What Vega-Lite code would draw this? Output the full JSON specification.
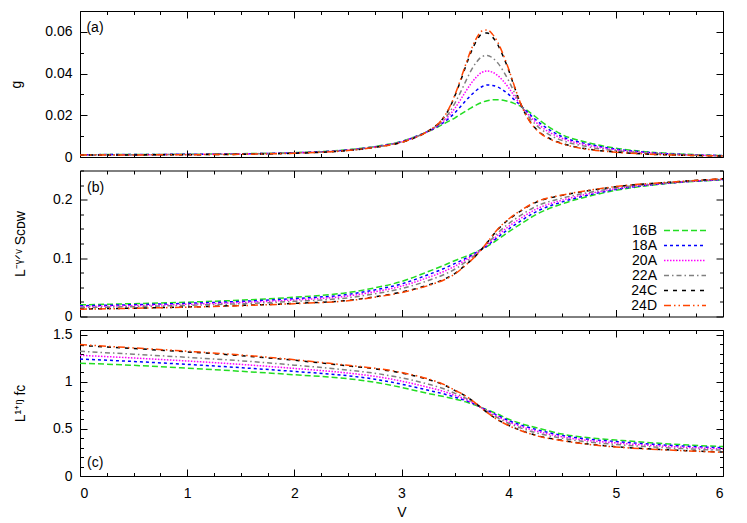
{
"$schema":"https://vega.github.io/schema/vega-lite/v6.json",
"background":"white",
"padding":{"left":8,"top":10,"right":5,"bottom":3},
"config":{"font":"Liberation Sans","view":{"stroke":"#000","strokeWidth":1},
"axis":{"domain":false,"grid":false,"labelFont":"Liberation Sans","labelFontSize":14,"labelColor":"#000","titleFont":"Liberation Sans","titleFontSize":14,"titleFontWeight":"normal","titleColor":"#000","tickColor":"#000","tickWidth":1}},
"spacing":13.5,
"bounds":"flush",
"resolve":{"scale":{"color":"independent","strokeDash":"independent"}},
"datasets":{
"ga":[
{"s":"16B","V":0,"y":0.0011},{"s":"16B","V":0.5,"y":0.0012},{"s":"16B","V":1,"y":0.0013},{"s":"16B","V":1.5,"y":0.0016},{"s":"16B","V":2,"y":0.0021},{"s":"16B","V":2.5,"y":0.0035},{"s":"16B","V":2.75,"y":0.005},{"s":"16B","V":3,"y":0.0075},{"s":"16B","V":3.1,"y":0.0092},{"s":"16B","V":3.2,"y":0.0112},{"s":"16B","V":3.3,"y":0.0134},{"s":"16B","V":3.35,"y":0.0147},{"s":"16B","V":3.4,"y":0.016},{"s":"16B","V":3.45,"y":0.0174},{"s":"16B","V":3.5,"y":0.0188},{"s":"16B","V":3.55,"y":0.0204},{"s":"16B","V":3.6,"y":0.022},{"s":"16B","V":3.65,"y":0.0236},{"s":"16B","V":3.7,"y":0.025},{"s":"16B","V":3.75,"y":0.0262},{"s":"16B","V":3.8,"y":0.027},{"s":"16B","V":3.85,"y":0.0274},{"s":"16B","V":3.9,"y":0.0275},{"s":"16B","V":3.95,"y":0.0272},{"s":"16B","V":4,"y":0.0266},{"s":"16B","V":4.05,"y":0.0257},{"s":"16B","V":4.1,"y":0.0246},{"s":"16B","V":4.15,"y":0.0231},{"s":"16B","V":4.2,"y":0.0213},{"s":"16B","V":4.25,"y":0.0193},{"s":"16B","V":4.3,"y":0.0172},{"s":"16B","V":4.4,"y":0.0136},{"s":"16B","V":4.5,"y":0.0107},{"s":"16B","V":4.75,"y":0.0068},{"s":"16B","V":5,"y":0.0042},{"s":"16B","V":5.25,"y":0.0027},{"s":"16B","V":5.5,"y":0.0017},{"s":"16B","V":5.75,"y":0.0011},{"s":"16B","V":6,"y":0.0007},
{"s":"18A","V":0,"y":0.0011},{"s":"18A","V":0.5,"y":0.0012},{"s":"18A","V":1,"y":0.0013},{"s":"18A","V":1.5,"y":0.0015},{"s":"18A","V":2,"y":0.002},{"s":"18A","V":2.5,"y":0.0034},{"s":"18A","V":2.75,"y":0.0049},{"s":"18A","V":3,"y":0.0074},{"s":"18A","V":3.1,"y":0.0091},{"s":"18A","V":3.2,"y":0.0112},{"s":"18A","V":3.3,"y":0.0136},{"s":"18A","V":3.35,"y":0.0151},{"s":"18A","V":3.4,"y":0.0168},{"s":"18A","V":3.45,"y":0.0189},{"s":"18A","V":3.5,"y":0.0213},{"s":"18A","V":3.55,"y":0.0241},{"s":"18A","V":3.6,"y":0.027},{"s":"18A","V":3.65,"y":0.0297},{"s":"18A","V":3.7,"y":0.032},{"s":"18A","V":3.75,"y":0.0337},{"s":"18A","V":3.8,"y":0.0345},{"s":"18A","V":3.85,"y":0.0343},{"s":"18A","V":3.9,"y":0.0335},{"s":"18A","V":3.95,"y":0.032},{"s":"18A","V":4,"y":0.03},{"s":"18A","V":4.05,"y":0.0276},{"s":"18A","V":4.1,"y":0.0252},{"s":"18A","V":4.15,"y":0.0227},{"s":"18A","V":4.2,"y":0.0203},{"s":"18A","V":4.25,"y":0.018},{"s":"18A","V":4.3,"y":0.0159},{"s":"18A","V":4.4,"y":0.0124},{"s":"18A","V":4.5,"y":0.0097},{"s":"18A","V":4.75,"y":0.0061},{"s":"18A","V":5,"y":0.0038},{"s":"18A","V":5.25,"y":0.0024},{"s":"18A","V":5.5,"y":0.0015},{"s":"18A","V":5.75,"y":0.001},{"s":"18A","V":6,"y":0.0007},
{"s":"20A","V":0,"y":0.001},{"s":"20A","V":0.5,"y":0.0011},{"s":"20A","V":1,"y":0.0012},{"s":"20A","V":1.5,"y":0.0015},{"s":"20A","V":2,"y":0.002},{"s":"20A","V":2.5,"y":0.0033},{"s":"20A","V":2.75,"y":0.0048},{"s":"20A","V":3,"y":0.0073},{"s":"20A","V":3.1,"y":0.009},{"s":"20A","V":3.2,"y":0.0111},{"s":"20A","V":3.3,"y":0.0137},{"s":"20A","V":3.35,"y":0.0154},{"s":"20A","V":3.4,"y":0.0175},{"s":"20A","V":3.45,"y":0.0202},{"s":"20A","V":3.5,"y":0.0235},{"s":"20A","V":3.55,"y":0.0274},{"s":"20A","V":3.6,"y":0.0315},{"s":"20A","V":3.65,"y":0.0353},{"s":"20A","V":3.7,"y":0.0384},{"s":"20A","V":3.75,"y":0.0406},{"s":"20A","V":3.8,"y":0.0412},{"s":"20A","V":3.85,"y":0.0406},{"s":"20A","V":3.9,"y":0.039},{"s":"20A","V":3.95,"y":0.0364},{"s":"20A","V":4,"y":0.0332},{"s":"20A","V":4.05,"y":0.0294},{"s":"20A","V":4.1,"y":0.0257},{"s":"20A","V":4.15,"y":0.0223},{"s":"20A","V":4.2,"y":0.0194},{"s":"20A","V":4.25,"y":0.0169},{"s":"20A","V":4.3,"y":0.0147},{"s":"20A","V":4.4,"y":0.0113},{"s":"20A","V":4.5,"y":0.0089},{"s":"20A","V":4.75,"y":0.0055},{"s":"20A","V":5,"y":0.0034},{"s":"20A","V":5.25,"y":0.0022},{"s":"20A","V":5.5,"y":0.0014},{"s":"20A","V":5.75,"y":0.0009},{"s":"20A","V":6,"y":0.0006},
{"s":"22A","V":0,"y":0.001},{"s":"22A","V":0.5,"y":0.0011},{"s":"22A","V":1,"y":0.0012},{"s":"22A","V":1.5,"y":0.0014},{"s":"22A","V":2,"y":0.0019},{"s":"22A","V":2.5,"y":0.0032},{"s":"22A","V":2.75,"y":0.0047},{"s":"22A","V":3,"y":0.0072},{"s":"22A","V":3.1,"y":0.0089},{"s":"22A","V":3.2,"y":0.0111},{"s":"22A","V":3.3,"y":0.0139},{"s":"22A","V":3.35,"y":0.0157},{"s":"22A","V":3.4,"y":0.0182},{"s":"22A","V":3.45,"y":0.0216},{"s":"22A","V":3.5,"y":0.026},{"s":"22A","V":3.55,"y":0.031},{"s":"22A","V":3.6,"y":0.0364},{"s":"22A","V":3.65,"y":0.0415},{"s":"22A","V":3.7,"y":0.0455},{"s":"22A","V":3.75,"y":0.0481},{"s":"22A","V":3.8,"y":0.0487},{"s":"22A","V":3.85,"y":0.0475},{"s":"22A","V":3.9,"y":0.045},{"s":"22A","V":3.95,"y":0.0412},{"s":"22A","V":4,"y":0.0366},{"s":"22A","V":4.05,"y":0.0313},{"s":"22A","V":4.1,"y":0.0263},{"s":"22A","V":4.15,"y":0.0219},{"s":"22A","V":4.2,"y":0.0184},{"s":"22A","V":4.25,"y":0.0157},{"s":"22A","V":4.3,"y":0.0134},{"s":"22A","V":4.4,"y":0.0101},{"s":"22A","V":4.5,"y":0.0079},{"s":"22A","V":4.75,"y":0.0048},{"s":"22A","V":5,"y":0.003},{"s":"22A","V":5.25,"y":0.0019},{"s":"22A","V":5.5,"y":0.0013},{"s":"22A","V":5.75,"y":0.0008},{"s":"22A","V":6,"y":0.0006},
{"s":"24C","V":0,"y":0.0009},{"s":"24C","V":0.5,"y":0.001},{"s":"24C","V":1,"y":0.0011},{"s":"24C","V":1.5,"y":0.0013},{"s":"24C","V":2,"y":0.0018},{"s":"24C","V":2.5,"y":0.0031},{"s":"24C","V":2.75,"y":0.0046},{"s":"24C","V":3,"y":0.007},{"s":"24C","V":3.1,"y":0.0087},{"s":"24C","V":3.2,"y":0.011},{"s":"24C","V":3.3,"y":0.0142},{"s":"24C","V":3.35,"y":0.0162},{"s":"24C","V":3.4,"y":0.0194},{"s":"24C","V":3.45,"y":0.0237},{"s":"24C","V":3.5,"y":0.0296},{"s":"24C","V":3.55,"y":0.0363},{"s":"24C","V":3.6,"y":0.0436},{"s":"24C","V":3.65,"y":0.0504},{"s":"24C","V":3.7,"y":0.0557},{"s":"24C","V":3.75,"y":0.059},{"s":"24C","V":3.8,"y":0.0595},{"s":"24C","V":3.85,"y":0.0575},{"s":"24C","V":3.9,"y":0.0537},{"s":"24C","V":3.95,"y":0.0481},{"s":"24C","V":4,"y":0.0416},{"s":"24C","V":4.05,"y":0.0341},{"s":"24C","V":4.1,"y":0.0271},{"s":"24C","V":4.15,"y":0.0213},{"s":"24C","V":4.2,"y":0.017},{"s":"24C","V":4.25,"y":0.0138},{"s":"24C","V":4.3,"y":0.0114},{"s":"24C","V":4.4,"y":0.0084},{"s":"24C","V":4.5,"y":0.0065},{"s":"24C","V":4.75,"y":0.0037},{"s":"24C","V":5,"y":0.0024},{"s":"24C","V":5.25,"y":0.0015},{"s":"24C","V":5.5,"y":0.001},{"s":"24C","V":5.75,"y":0.0007},{"s":"24C","V":6,"y":0.0005},
{"s":"24D","V":0,"y":0.0009},{"s":"24D","V":0.5,"y":0.001},{"s":"24D","V":1,"y":0.0011},{"s":"24D","V":1.5,"y":0.0013},{"s":"24D","V":2,"y":0.0018},{"s":"24D","V":2.5,"y":0.0031},{"s":"24D","V":2.75,"y":0.0046},{"s":"24D","V":3,"y":0.007},{"s":"24D","V":3.1,"y":0.0087},{"s":"24D","V":3.2,"y":0.011},{"s":"24D","V":3.3,"y":0.0142},{"s":"24D","V":3.35,"y":0.0163},{"s":"24D","V":3.4,"y":0.0195},{"s":"24D","V":3.45,"y":0.024},{"s":"24D","V":3.5,"y":0.03},{"s":"24D","V":3.55,"y":0.037},{"s":"24D","V":3.6,"y":0.0445},{"s":"24D","V":3.65,"y":0.0515},{"s":"24D","V":3.7,"y":0.057},{"s":"24D","V":3.75,"y":0.0604},{"s":"24D","V":3.8,"y":0.0609},{"s":"24D","V":3.85,"y":0.0588},{"s":"24D","V":3.9,"y":0.0548},{"s":"24D","V":3.95,"y":0.049},{"s":"24D","V":4,"y":0.0422},{"s":"24D","V":4.05,"y":0.0345},{"s":"24D","V":4.1,"y":0.0272},{"s":"24D","V":4.15,"y":0.0212},{"s":"24D","V":4.2,"y":0.0168},{"s":"24D","V":4.25,"y":0.0136},{"s":"24D","V":4.3,"y":0.0112},{"s":"24D","V":4.4,"y":0.0082},{"s":"24D","V":4.5,"y":0.0063},{"s":"24D","V":4.75,"y":0.0036},{"s":"24D","V":5,"y":0.0023},{"s":"24D","V":5.25,"y":0.0015},{"s":"24D","V":5.5,"y":0.001},{"s":"24D","V":5.75,"y":0.0007},{"s":"24D","V":6,"y":0.0005}
],
"sb":[
{"s":"16B","V":0,"y":0.02},{"s":"16B","V":0.5,"y":0.022},{"s":"16B","V":1,"y":0.0245},{"s":"16B","V":1.5,"y":0.028},{"s":"16B","V":2,"y":0.033},{"s":"16B","V":2.5,"y":0.041},{"s":"16B","V":2.75,"y":0.049},{"s":"16B","V":3,"y":0.06},{"s":"16B","V":3.25,"y":0.077},{"s":"16B","V":3.4,"y":0.088},{"s":"16B","V":3.5,"y":0.096},{"s":"16B","V":3.6,"y":0.103},{"s":"16B","V":3.7,"y":0.111},{"s":"16B","V":3.8,"y":0.12},{"s":"16B","V":3.9,"y":0.132},{"s":"16B","V":4,"y":0.145},{"s":"16B","V":4.1,"y":0.157},{"s":"16B","V":4.25,"y":0.174},{"s":"16B","V":4.5,"y":0.193},{"s":"16B","V":4.75,"y":0.206},{"s":"16B","V":5,"y":0.216},{"s":"16B","V":5.5,"y":0.228},{"s":"16B","V":6,"y":0.234},
{"s":"18A","V":0,"y":0.0184},{"s":"18A","V":0.5,"y":0.0202},{"s":"18A","V":1,"y":0.0226},{"s":"18A","V":1.5,"y":0.0259},{"s":"18A","V":2,"y":0.0306},{"s":"18A","V":2.5,"y":0.0379},{"s":"18A","V":2.75,"y":0.0455},{"s":"18A","V":3,"y":0.0558},{"s":"18A","V":3.25,"y":0.0717},{"s":"18A","V":3.4,"y":0.0825},{"s":"18A","V":3.5,"y":0.0909},{"s":"18A","V":3.6,"y":0.0997},{"s":"18A","V":3.7,"y":0.1097},{"s":"18A","V":3.8,"y":0.1215},{"s":"18A","V":3.9,"y":0.136},{"s":"18A","V":4,"y":0.1498},{"s":"18A","V":4.1,"y":0.1621},{"s":"18A","V":4.25,"y":0.1788},{"s":"18A","V":4.5,"y":0.1963},{"s":"18A","V":4.75,"y":0.2082},{"s":"18A","V":5,"y":0.2175},{"s":"18A","V":5.5,"y":0.2284},{"s":"18A","V":6,"y":0.2344},
{"s":"20A","V":0,"y":0.0169},{"s":"20A","V":0.5,"y":0.0186},{"s":"20A","V":1,"y":0.0209},{"s":"20A","V":1.5,"y":0.024},{"s":"20A","V":2,"y":0.0284},{"s":"20A","V":2.5,"y":0.0351},{"s":"20A","V":2.75,"y":0.0423},{"s":"20A","V":3,"y":0.052},{"s":"20A","V":3.25,"y":0.0669},{"s":"20A","V":3.4,"y":0.0775},{"s":"20A","V":3.5,"y":0.0863},{"s":"20A","V":3.6,"y":0.0967},{"s":"20A","V":3.7,"y":0.1085},{"s":"20A","V":3.8,"y":0.1229},{"s":"20A","V":3.9,"y":0.1396},{"s":"20A","V":4,"y":0.1542},{"s":"20A","V":4.1,"y":0.1667},{"s":"20A","V":4.25,"y":0.1832},{"s":"20A","V":4.5,"y":0.1993},{"s":"20A","V":4.75,"y":0.2102},{"s":"20A","V":5,"y":0.2188},{"s":"20A","V":5.5,"y":0.2288},{"s":"20A","V":6,"y":0.2348},
{"s":"22A","V":0,"y":0.0152},{"s":"22A","V":0.5,"y":0.0169},{"s":"22A","V":1,"y":0.0191},{"s":"22A","V":1.5,"y":0.0219},{"s":"22A","V":2,"y":0.026},{"s":"22A","V":2.5,"y":0.032},{"s":"22A","V":2.75,"y":0.0388},{"s":"22A","V":3,"y":0.0478},{"s":"22A","V":3.25,"y":0.0616},{"s":"22A","V":3.4,"y":0.072},{"s":"22A","V":3.5,"y":0.0813},{"s":"22A","V":3.6,"y":0.0934},{"s":"22A","V":3.7,"y":0.1072},{"s":"22A","V":3.8,"y":0.1245},{"s":"22A","V":3.9,"y":0.1435},{"s":"22A","V":4,"y":0.1591},{"s":"22A","V":4.1,"y":0.1717},{"s":"22A","V":4.25,"y":0.1881},{"s":"22A","V":4.5,"y":0.2026},{"s":"22A","V":4.75,"y":0.2124},{"s":"22A","V":5,"y":0.2202},{"s":"22A","V":5.5,"y":0.2293},{"s":"22A","V":6,"y":0.2353},
{"s":"24C","V":0,"y":0.0128},{"s":"24C","V":0.5,"y":0.0143},{"s":"24C","V":1,"y":0.0163},{"s":"24C","V":1.5,"y":0.0189},{"s":"24C","V":2,"y":0.0224},{"s":"24C","V":2.5,"y":0.0276},{"s":"24C","V":2.75,"y":0.0336},{"s":"24C","V":3,"y":0.0418},{"s":"24C","V":3.25,"y":0.054},{"s":"24C","V":3.4,"y":0.064},{"s":"24C","V":3.5,"y":0.0739},{"s":"24C","V":3.6,"y":0.0886},{"s":"24C","V":3.7,"y":0.1052},{"s":"24C","V":3.8,"y":0.1267},{"s":"24C","V":3.9,"y":0.1493},{"s":"24C","V":4,"y":0.1661},{"s":"24C","V":4.1,"y":0.1791},{"s":"24C","V":4.25,"y":0.1951},{"s":"24C","V":4.5,"y":0.2074},{"s":"24C","V":4.75,"y":0.2156},{"s":"24C","V":5,"y":0.2223},{"s":"24C","V":5.5,"y":0.2299},{"s":"24C","V":6,"y":0.2359},
{"s":"24D","V":0,"y":0.0125},{"s":"24D","V":0.5,"y":0.014},{"s":"24D","V":1,"y":0.016},{"s":"24D","V":1.5,"y":0.0185},{"s":"24D","V":2,"y":0.022},{"s":"24D","V":2.5,"y":0.027},{"s":"24D","V":2.75,"y":0.033},{"s":"24D","V":3,"y":0.041},{"s":"24D","V":3.25,"y":0.053},{"s":"24D","V":3.4,"y":0.063},{"s":"24D","V":3.5,"y":0.073},{"s":"24D","V":3.6,"y":0.088},{"s":"24D","V":3.7,"y":0.105},{"s":"24D","V":3.8,"y":0.127},{"s":"24D","V":3.9,"y":0.15},{"s":"24D","V":4,"y":0.167},{"s":"24D","V":4.1,"y":0.18},{"s":"24D","V":4.25,"y":0.196},{"s":"24D","V":4.5,"y":0.208},{"s":"24D","V":4.75,"y":0.216},{"s":"24D","V":5,"y":0.2226},{"s":"24D","V":5.5,"y":0.23},{"s":"24D","V":6,"y":0.236}
],
"fc":[
{"s":"16B","V":0,"y":1.198},{"s":"16B","V":0.5,"y":1.175},{"s":"16B","V":1,"y":1.145},{"s":"16B","V":1.5,"y":1.112},{"s":"16B","V":2,"y":1.075},{"s":"16B","V":2.5,"y":1.033},{"s":"16B","V":2.75,"y":0.995},{"s":"16B","V":3,"y":0.94},{"s":"16B","V":3.25,"y":0.876},{"s":"16B","V":3.4,"y":0.842},{"s":"16B","V":3.5,"y":0.817},{"s":"16B","V":3.6,"y":0.787},{"s":"16B","V":3.7,"y":0.748},{"s":"16B","V":3.8,"y":0.703},{"s":"16B","V":3.9,"y":0.655},{"s":"16B","V":4,"y":0.603},{"s":"16B","V":4.1,"y":0.562},{"s":"16B","V":4.25,"y":0.515},{"s":"16B","V":4.5,"y":0.445},{"s":"16B","V":4.75,"y":0.405},{"s":"16B","V":5,"y":0.382},{"s":"16B","V":5.5,"y":0.34},{"s":"16B","V":6,"y":0.312},
{"s":"18A","V":0,"y":1.241},{"s":"18A","V":0.5,"y":1.216},{"s":"18A","V":1,"y":1.185},{"s":"18A","V":1.5,"y":1.15},{"s":"18A","V":2,"y":1.11},{"s":"18A","V":2.5,"y":1.064},{"s":"18A","V":2.75,"y":1.028},{"s":"18A","V":3,"y":0.975},{"s":"18A","V":3.25,"y":0.91},{"s":"18A","V":3.4,"y":0.87},{"s":"18A","V":3.5,"y":0.837},{"s":"18A","V":3.6,"y":0.801},{"s":"18A","V":3.7,"y":0.752},{"s":"18A","V":3.8,"y":0.696},{"s":"18A","V":3.9,"y":0.642},{"s":"18A","V":4,"y":0.588},{"s":"18A","V":4.1,"y":0.546},{"s":"18A","V":4.25,"y":0.496},{"s":"18A","V":4.5,"y":0.43},{"s":"18A","V":4.75,"y":0.39},{"s":"18A","V":5,"y":0.366},{"s":"18A","V":5.5,"y":0.326},{"s":"18A","V":6,"y":0.299},
{"s":"20A","V":0,"y":1.281},{"s":"20A","V":0.5,"y":1.253},{"s":"20A","V":1,"y":1.221},{"s":"20A","V":1.5,"y":1.185},{"s":"20A","V":2,"y":1.142},{"s":"20A","V":2.5,"y":1.093},{"s":"20A","V":2.75,"y":1.058},{"s":"20A","V":3,"y":1.007},{"s":"20A","V":3.25,"y":0.941},{"s":"20A","V":3.4,"y":0.896},{"s":"20A","V":3.5,"y":0.856},{"s":"20A","V":3.6,"y":0.813},{"s":"20A","V":3.7,"y":0.755},{"s":"20A","V":3.8,"y":0.69},{"s":"20A","V":3.9,"y":0.63},{"s":"20A","V":4,"y":0.574},{"s":"20A","V":4.1,"y":0.531},{"s":"20A","V":4.25,"y":0.479},{"s":"20A","V":4.5,"y":0.416},{"s":"20A","V":4.75,"y":0.376},{"s":"20A","V":5,"y":0.351},{"s":"20A","V":5.5,"y":0.313},{"s":"20A","V":6,"y":0.287},
{"s":"22A","V":0,"y":1.324},{"s":"22A","V":0.5,"y":1.293},{"s":"22A","V":1,"y":1.26},{"s":"22A","V":1.5,"y":1.223},{"s":"22A","V":2,"y":1.177},{"s":"22A","V":2.5,"y":1.124},{"s":"22A","V":2.75,"y":1.091},{"s":"22A","V":3,"y":1.042},{"s":"22A","V":3.25,"y":0.975},{"s":"22A","V":3.4,"y":0.924},{"s":"22A","V":3.5,"y":0.877},{"s":"22A","V":3.6,"y":0.827},{"s":"22A","V":3.7,"y":0.759},{"s":"22A","V":3.8,"y":0.683},{"s":"22A","V":3.9,"y":0.617},{"s":"22A","V":4,"y":0.559},{"s":"22A","V":4.1,"y":0.515},{"s":"22A","V":4.25,"y":0.461},{"s":"22A","V":4.5,"y":0.4},{"s":"22A","V":4.75,"y":0.36},{"s":"22A","V":5,"y":0.335},{"s":"22A","V":5.5,"y":0.298},{"s":"22A","V":6,"y":0.274},
{"s":"24C","V":0,"y":1.387},{"s":"24C","V":0.5,"y":1.353},{"s":"24C","V":1,"y":1.318},{"s":"24C","V":1.5,"y":1.278},{"s":"24C","V":2,"y":1.229},{"s":"24C","V":2.5,"y":1.169},{"s":"24C","V":2.75,"y":1.139},{"s":"24C","V":3,"y":1.093},{"s":"24C","V":3.25,"y":1.024},{"s":"24C","V":3.4,"y":0.965},{"s":"24C","V":3.5,"y":0.906},{"s":"24C","V":3.6,"y":0.847},{"s":"24C","V":3.7,"y":0.764},{"s":"24C","V":3.8,"y":0.673},{"s":"24C","V":3.9,"y":0.597},{"s":"24C","V":4,"y":0.538},{"s":"24C","V":4.1,"y":0.491},{"s":"24C","V":4.25,"y":0.434},{"s":"24C","V":4.5,"y":0.378},{"s":"24C","V":4.75,"y":0.338},{"s":"24C","V":5,"y":0.311},{"s":"24C","V":5.5,"y":0.277},{"s":"24C","V":6,"y":0.254},
{"s":"24D","V":0,"y":1.395},{"s":"24D","V":0.5,"y":1.36},{"s":"24D","V":1,"y":1.325},{"s":"24D","V":1.5,"y":1.285},{"s":"24D","V":2,"y":1.235},{"s":"24D","V":2.5,"y":1.175},{"s":"24D","V":2.75,"y":1.145},{"s":"24D","V":3,"y":1.099},{"s":"24D","V":3.25,"y":1.03},{"s":"24D","V":3.4,"y":0.97},{"s":"24D","V":3.5,"y":0.91},{"s":"24D","V":3.6,"y":0.85},{"s":"24D","V":3.7,"y":0.765},{"s":"24D","V":3.8,"y":0.672},{"s":"24D","V":3.9,"y":0.595},{"s":"24D","V":4,"y":0.535},{"s":"24D","V":4.1,"y":0.488},{"s":"24D","V":4.25,"y":0.43},{"s":"24D","V":4.5,"y":0.375},{"s":"24D","V":4.75,"y":0.335},{"s":"24D","V":5,"y":0.308},{"s":"24D","V":5.5,"y":0.275},{"s":"24D","V":6,"y":0.252}
]
},
"vconcat":[
{"width":643,"height":146,"data":{"name":"ga"},
"resolve":{"axis":{"x":"independent","y":"independent"}},
"layer":[
{"mark":{"type":"line","strokeWidth":1.5,"interpolate":"monotone"},
"encoding":{
"x":{"field":"V","type":"quantitative","scale":{"domain":[0,6],"nice":false,"zero":false},
"axis":{"orient":"bottom","title":null,"labels":false,"values":[0,0.25,0.5,0.75,1,1.25,1.5,1.75,2,2.25,2.5,2.75,3,3.25,3.5,3.75,4,4.25,4.5,4.75,5,5.25,5.5,5.75,6],"tickSize":{"condition":{"test":"datum.value % 1 != 0","value":-3.5},"value":-7}}},
"y":{"field":"y","type":"quantitative","scale":{"domain":[0,0.07],"nice":false},
"axis":{"orient":"left","title":"g","titleAngle":270,"titleX":-64,"titleY":73,"titleAlign":"center","titleBaseline":"middle","values":[0,0.01,0.02,0.03,0.04,0.05,0.06,0.07],"labelExpr":"round(datum.value*100) % 2 == 0 && datum.value < 0.065 ? format(datum.value, '~g') : ''","labelPadding":15,"tickSize":{"condition":{"test":"round(datum.value*100) % 2 != 0","value":-3.5},"value":-7}}},
"color":{"field":"s","type":"nominal","scale":{"domain":["16B","18A","20A","22A","24C","24D"],"range":["#22dd22","#0000ff","#ff00ff","#808080","#000000","#ff4500"]},"legend":null},
"strokeDash":{"field":"s","type":"nominal","scale":{"domain":["16B","18A","20A","22A","24C","24D"],"range":[[6,3],[3,3],[1.5,1.5],[5,3,1.5,3],[4,5],[7,3,1.5,3,1.5,3]]},"legend":null}
}},
{"mark":{"type":"line","opacity":0},
"encoding":{
"x":{"field":"V","type":"quantitative","axis":{"orient":"top","title":null,"labels":false,"values":[0,0.25,0.5,0.75,1,1.25,1.5,1.75,2,2.25,2.5,2.75,3,3.25,3.5,3.75,4,4.25,4.5,4.75,5,5.25,5.5,5.75,6],"tickSize":{"condition":{"test":"datum.value % 1 != 0","value":-3.5},"value":-7}}},
"y":{"field":"y","type":"quantitative","axis":{"orient":"right","title":null,"labels":false,"values":[0,0.01,0.02,0.03,0.04,0.05,0.06,0.07],"tickSize":{"condition":{"test":"round(datum.value*100) % 2 != 0","value":-3.5},"value":-7}}},
"detail":{"field":"s"}}},
{"data":{"values":[{}]},"mark":{"type":"text","align":"left","baseline":"middle","fontSize":14,"font":"Liberation Sans","color":"#000"},
"encoding":{"x":{"datum":0.06,"axis":null},"y":{"datum":0.062,"axis":null},"text":{"value":"(a)"}}}
]},
{"width":643,"height":146,"data":{"name":"sb"},
"resolve":{"axis":{"x":"independent","y":"independent"}},
"layer":[
{"mark":{"type":"line","strokeWidth":1.5,"interpolate":"monotone"},
"encoding":{
"x":{"field":"V","type":"quantitative","scale":{"domain":[0,6],"nice":false,"zero":false},
"axis":{"orient":"bottom","title":null,"labels":false,"values":[0,0.25,0.5,0.75,1,1.25,1.5,1.75,2,2.25,2.5,2.75,3,3.25,3.5,3.75,4,4.25,4.5,4.75,5,5.25,5.5,5.75,6],"tickSize":{"condition":{"test":"datum.value % 1 != 0","value":-3.5},"value":-7}}},
"y":{"field":"y","type":"quantitative","scale":{"domain":[0,0.25],"nice":false},
"axis":{"orient":"left","title":"L⁻ᵞᐟᵛ Sᴄᴅᴡ","titleAngle":270,"titleX":-60,"titleY":73,"titleAlign":"center","titleBaseline":"middle","values":[0,0.025,0.05,0.075,0.1,0.125,0.15,0.175,0.2,0.225,0.25],"labelExpr":"round(datum.value*40) % 4 == 0 ? format(datum.value, '~g') : ''","labelPadding":15,"tickSize":{"condition":{"test":"round(datum.value*40) % 4 != 0","value":-3.5},"value":-7}}},
"color":{"field":"s","type":"nominal","scale":{"domain":["16B","18A","20A","22A","24C","24D"],"range":["#22dd22","#0000ff","#ff00ff","#808080","#000000","#ff4500"]},
"legend":{"title":null,"orient":"none","legendX":597,"legendY":52,"symbolType":"M-3,0H3","symbolSize":196,"symbolStrokeWidth":1.5,"symbolFillColor":"transparent","labelAlign":"right","labelOffset":-36,"labelFontSize":14,"labelFont":"Liberation Sans","labelColor":"#000","rowPadding":-0.2,"padding":0}},
"strokeDash":{"field":"s","type":"nominal","scale":{"domain":["16B","18A","20A","22A","24C","24D"],"range":[[6,3],[3,3],[1.5,1.5],[5,3,1.5,3],[4,5],[7,3,1.5,3,1.5,3]]},
"legend":{"title":null,"orient":"none","legendX":597,"legendY":52,"symbolType":"M-3,0H3","symbolSize":196,"symbolStrokeWidth":1.5,"symbolFillColor":"transparent","labelAlign":"right","labelOffset":-36,"labelFontSize":14,"labelFont":"Liberation Sans","labelColor":"#000","rowPadding":-0.2,"padding":0}}
}},
{"mark":{"type":"line","opacity":0},
"encoding":{
"x":{"field":"V","type":"quantitative","axis":{"orient":"top","title":null,"labels":false,"values":[0,0.25,0.5,0.75,1,1.25,1.5,1.75,2,2.25,2.5,2.75,3,3.25,3.5,3.75,4,4.25,4.5,4.75,5,5.25,5.5,5.75,6],"tickSize":{"condition":{"test":"datum.value % 1 != 0","value":-3.5},"value":-7}}},
"y":{"field":"y","type":"quantitative","axis":{"orient":"right","title":null,"labels":false,"values":[0,0.025,0.05,0.075,0.1,0.125,0.15,0.175,0.2,0.225,0.25],"tickSize":{"condition":{"test":"round(datum.value*40) % 4 != 0","value":-3.5},"value":-7}}},
"detail":{"field":"s"}}},
{"data":{"values":[{}]},"mark":{"type":"text","align":"left","baseline":"middle","fontSize":14,"font":"Liberation Sans","color":"#000"},
"encoding":{"x":{"datum":0.065,"axis":null},"y":{"datum":0.22,"axis":null},"text":{"value":"(b)"}}}
]},
{"width":643,"height":146,"data":{"name":"fc"},
"resolve":{"axis":{"x":"independent","y":"independent"}},
"layer":[
{"mark":{"type":"line","strokeWidth":1.5,"interpolate":"monotone"},
"encoding":{
"x":{"field":"V","type":"quantitative","scale":{"domain":[0,6],"nice":false,"zero":false},
"axis":{"orient":"bottom","title":"V","titlePadding":5,"labelPadding":17,"values":[0,0.25,0.5,0.75,1,1.25,1.5,1.75,2,2.25,2.5,2.75,3,3.25,3.5,3.75,4,4.25,4.5,4.75,5,5.25,5.5,5.75,6],"labelExpr":"datum.value % 1 == 0 ? format(datum.value, 'd') : ''","tickSize":{"condition":{"test":"datum.value % 1 != 0","value":-3.5},"value":-7}}},
"y":{"field":"y","type":"quantitative","scale":{"domain":[0,1.55],"nice":false},
"axis":{"orient":"left","title":"L¹⁺ᵑ fᴄ","titleAngle":270,"titleX":-60,"titleY":73,"titleAlign":"center","titleBaseline":"middle","values":[0,0.1,0.2,0.3,0.4,0.5,0.6,0.7,0.8,0.9,1,1.1,1.2,1.3,1.4,1.5],"labelExpr":"round(datum.value*10) % 5 == 0 ? format(datum.value, '~g') : ''","labelPadding":15,"tickSize":{"condition":{"test":"round(datum.value*10) % 5 != 0","value":-3.5},"value":-7}}},
"color":{"field":"s","type":"nominal","scale":{"domain":["16B","18A","20A","22A","24C","24D"],"range":["#22dd22","#0000ff","#ff00ff","#808080","#000000","#ff4500"]},"legend":null},
"strokeDash":{"field":"s","type":"nominal","scale":{"domain":["16B","18A","20A","22A","24C","24D"],"range":[[6,3],[3,3],[1.5,1.5],[5,3,1.5,3],[4,5],[7,3,1.5,3,1.5,3]]},"legend":null}
}},
{"mark":{"type":"line","opacity":0},
"encoding":{
"x":{"field":"V","type":"quantitative","axis":{"orient":"top","title":null,"labels":false,"values":[0,0.25,0.5,0.75,1,1.25,1.5,1.75,2,2.25,2.5,2.75,3,3.25,3.5,3.75,4,4.25,4.5,4.75,5,5.25,5.5,5.75,6],"tickSize":{"condition":{"test":"datum.value % 1 != 0","value":-3.5},"value":-7}}},
"y":{"field":"y","type":"quantitative","axis":{"orient":"right","title":null,"labels":false,"values":[0,0.1,0.2,0.3,0.4,0.5,0.6,0.7,0.8,0.9,1,1.1,1.2,1.3,1.4,1.5],"tickSize":{"condition":{"test":"round(datum.value*10) % 5 != 0","value":-3.5},"value":-7}}},
"detail":{"field":"s"}}},
{"data":{"values":[{}]},"mark":{"type":"text","align":"left","baseline":"middle","fontSize":14,"font":"Liberation Sans","color":"#000"},
"encoding":{"x":{"datum":0.065,"axis":null},"y":{"datum":0.138,"axis":null},"text":{"value":"(c)"}}}
]}
]
}
